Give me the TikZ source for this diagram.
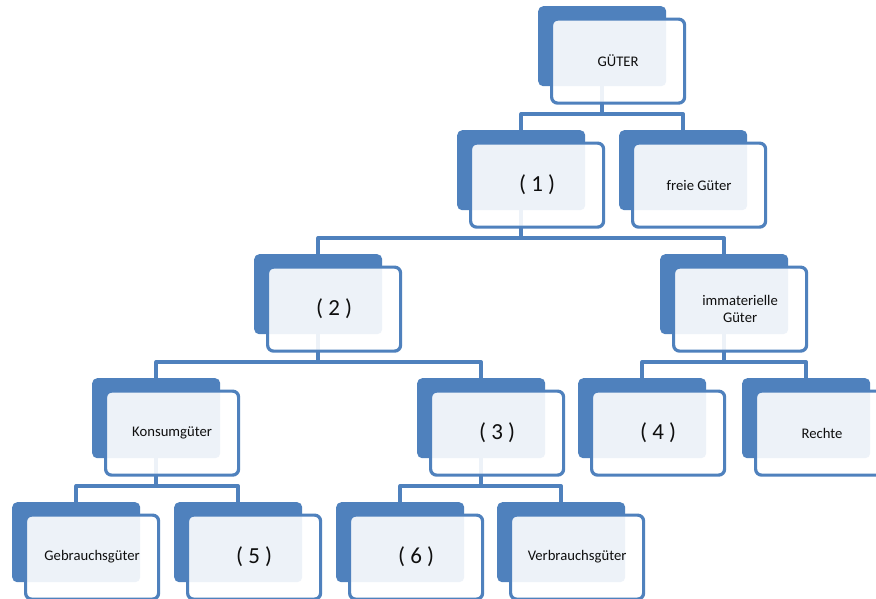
\documentclass[tikz,border=0pt]{standalone}
\usepackage{fontspec}
\setmainfont{Carlito}
\definecolor{gblue}{RGB}{79,129,189}
\definecolor{gtext}{RGB}{15,15,15}
\begin{document}
\begin{tikzpicture}[x=1pt,y=-1pt,
  backbox/.style={rectangle, rounded corners=5pt, fill=gblue, minimum width=128pt,
    minimum height=80pt, inner sep=0pt, anchor=north west},
  frontbox/.style={rectangle, rounded corners=6pt, draw=gblue, line width=3.2pt,
    fill=white, fill opacity=0.9, text opacity=1, minimum width=133pt,
    minimum height=84pt, inner sep=0pt, anchor=north west, text=gtext,
    font=\fontsize{14.67}{16.5}\selectfont, align=center},
  numbox/.style={frontbox, font=\fontsize{23}{27}\selectfont},
  conn/.style={draw=gblue, line width=3.6pt, line join=round}
]
\useasboundingbox (0,0) rectangle (876,598);
\clip (0,0) rectangle (876,598);
\fill[white] (0,0) rectangle (876,598);

% back boxes
\node[backbox] (g)  at (538,6)   {};
\node[backbox] (n1) at (457,130) {};
\node[backbox] (fg) at (619,130) {};
\node[backbox] (n2) at (254,254) {};
\node[backbox] (im) at (660,254) {};
\node[backbox] (ko) at (92,378)  {};
\node[backbox] (n3) at (417,378) {};
\node[backbox] (n4) at (578,378) {};
\node[backbox] (re) at (742,378) {};
\node[backbox] (ge) at (12,502)  {};
\node[backbox] (n5) at (174,502) {};
\node[backbox] (n6) at (336,502) {};
\node[backbox] (vb) at (497,502) {};

% connectors
\foreach \p/\c in {g/n1, g/fg, n1/n2, n1/im, n2/ko, n2/n3, im/n4, im/re, ko/ge, ko/n5, n3/n6, n3/vb}
  \draw[conn] (\p.center) |- ([yshift=16pt]\c.north) -- (\c.north);

% front boxes
\node[frontbox] (g-f)  at ([xshift=12pt,yshift=-11.5pt]g.north west)  {GÜTER};
\node[numbox]   (n1-f) at ([xshift=12pt,yshift=-11.5pt]n1.north west) {( 1 )};
\node[frontbox] (fg-f) at ([xshift=12pt,yshift=-11.5pt]fg.north west) {freie Güter};
\node[numbox]   (n2-f) at ([xshift=12pt,yshift=-11.5pt]n2.north west) {( 2 )};
\node[frontbox] (im-f) at ([xshift=12pt,yshift=-11.5pt]im.north west) {immaterielle\\Güter};
\node[frontbox] (ko-f) at ([xshift=12pt,yshift=-11.5pt]ko.north west) {Konsumgüter};
\node[numbox]   (n3-f) at ([xshift=12pt,yshift=-11.5pt]n3.north west) {( 3 )};
\node[numbox]   (n4-f) at ([xshift=12pt,yshift=-11.5pt]n4.north west) {( 4 )};
\node[frontbox] (re-f) at ([xshift=12pt,yshift=-11.5pt]re.north west) {Rechte};
\node[frontbox] (ge-f) at ([xshift=12pt,yshift=-11.5pt]ge.north west) {Gebrauchsgüter};
\node[numbox]   (n5-f) at ([xshift=12pt,yshift=-11.5pt]n5.north west) {( 5 )};
\node[numbox]   (n6-f) at ([xshift=12pt,yshift=-11.5pt]n6.north west) {( 6 )};
\node[frontbox] (vb-f) at ([xshift=12pt,yshift=-11.5pt]vb.north west) {Verbrauchsgüter};
\end{tikzpicture}
\end{document}
